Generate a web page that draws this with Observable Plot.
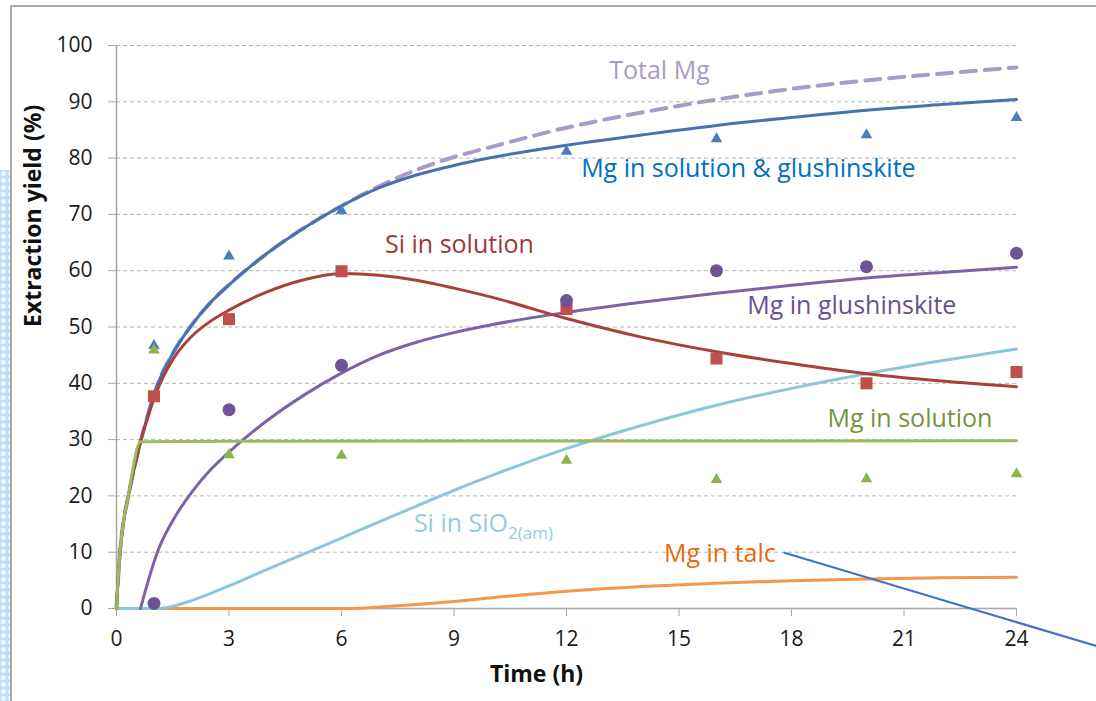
<!DOCTYPE html>
<html><head><meta charset="utf-8">
<script src="https://cdn.jsdelivr.net/npm/d3@7"></script>
<script src="https://cdn.jsdelivr.net/npm/@observablehq/plot@0.6"></script>
<style>
html,body{margin:0;padding:0;background:#fff;}
#wrap{position:relative;width:1096px;height:701px;overflow:hidden;background:#fff;}
#strip{position:absolute;left:0;top:170px;width:10px;height:531px;background-color:#bfdfef;background-image:radial-gradient(circle, #e8f3fa 2.2px, transparent 2.9px);background-size:7px 7px;}
#frame{position:absolute;left:10px;top:5px;width:1200px;height:800px;border-left:2px solid #a9a9a9;border-top:2px solid #a9a9a9;}
#chart{position:absolute;left:0;top:0;}
svg text{font-variant-ligatures:none;}
</style></head>
<body>
<div id="wrap"><div id="strip"></div><div id="frame"></div><div id="chart"></div></div>
<script>
// measured points (time in h, extraction yield in %)
const hours = [1, 3, 6, 12, 16, 20, 24];
const mgSolGlushMeas = [46.7, 62.6, 70.6, 81.2, 83.4, 84.1, 87.2];
const mgSolMeas = [45.9, 27.3, 27.2, 26.3, 22.9, 23.0, 23.9];
const siSolMeas = [37.7, 51.4, 59.9, 53.2, 44.4, 40.0, 42.0];
const mgGlushMeas = [0.9, 35.3, 43.2, 54.7, 60.0, 60.7, 63.1];

// model curves [time, value]
const totalMgCurve = [[0,0],[0.04,5],[0.1,10.5],[0.2,16],[0.3,19.5],[0.64,29.6],[0.85,34.7],[1.09,39.7],[1.5,45.3],[2,50.3],[2.5,54.3],[3,57.5],[4,63],[5,67.6],[6,71.5],[7,75],[8,77.9],[9,80.2],[10,82],[12,85.4],[14,88.1],[16,90.4],[18,92.3],[20,93.8],[22,95],[24,96.1]];
const mgSolGlushCurve = [[0,0],[0.04,5],[0.1,10.5],[0.2,16],[0.3,19.5],[0.64,29.6],[0.85,34.7],[1.09,39.7],[1.5,45.3],[2,50.3],[2.5,54.3],[3,57.5],[4,63],[5,67.6],[6,71.5],[7,74.7],[8,77],[9,78.7],[10,80.1],[12,82.3],[14,84.1],[16,85.8],[18,87.2],[20,88.5],[22,89.5],[24,90.4]];
const siSolCurve = [[0,0],[0.04,5],[0.1,10.5],[0.2,16],[0.3,19.5],[0.64,29.6],[0.82,33.6],[1,37.3],[1.25,41.2],[1.5,44.2],[2,48.3],[2.5,51],[3,53],[4,56.2],[5,58.4],[6,59.5],[7,59.2],[8,58.3],[9,56.9],[10,55.3],[12,51.5],[14,48.2],[16,45.6],[18,43.5],[20,41.7],[22,40.4],[24,39.4]];
const mgGlushCurve = [[0.64,0],[0.85,5],[1.09,10],[1.5,15.6],[2,20.6],[2.5,24.6],[3,27.8],[4,33.3],[5,37.9],[6,41.8],[7,45],[8,47.3],[9,49],[10,50.4],[12,52.6],[14,54.4],[16,56],[18,57.4],[20,58.7],[22,59.7],[24,60.6]];
const mgSolCurve = [[0,0],[0.04,5],[0.1,10.5],[0.2,16],[0.3,19.5],[0.64,29.6],[3,29.7],[24,29.8]];
const siSio2Curve = [[0,0],[1.1,0],[1.5,0.4],[2,1.4],[2.5,2.65],[3,4],[4,6.9],[5,9.7],[6,12.5],[7,15.4],[8,18.2],[9,21],[10,23.6],[12,28.4],[14,32.5],[16,36.1],[18,39.1],[20,41.7],[22,44],[24,46.1]];
const mgTalcCurve = [[0,0],[6.3,0],[7,0.25],[8,0.7],[9,1.25],[10,1.9],[12,3.05],[14,3.9],[16,4.5],[18,4.95],[20,5.25],[22,5.45],[24,5.55]];

// series labels
const labelText = ["Total Mg", "Mg in solution & glushinskite", "Si in solution", "Mg in glushinskite", "Mg in solution", "Si in SiO2(am)", "Mg in talc"];
const labelX = [13.14, 12.39, 7.16, 16.82, 18.96, 7.93, 14.6];
const labelY = [95.5, 78.1, 64.6, 53.8, 33.7, 15.0, 9.7];
const leaderT = [17.81, 26.2];
const leaderV = [9.9, -6.8];

const xTicks = [0, 3, 6, 9, 12, 15, 18, 21, 24];
const yTicks = [0, 10, 20, 30, 40, 50, 60, 70, 80, 90, 100];

const labelColors = ["#a99bc9", "#0070c0", "#9b3a35", "#69518c", "#77933c", "#92cddc", "#e46c0a"];
const labels = labelText.map((t, i) => ({t, x: labelX[i], y: labelY[i], c: labelColors[i]}));
const pts = (vals) => hours.map((h, i) => ({h, v: vals[i]}));
const leader = leaderT.map((t, i) => ({t, v: leaderV[i]}));

const lineOpts = (color) => ({x: d => d[0], y: d => d[1], stroke: color, strokeWidth: 3, curve: "monotone-x"});

const svg = Plot.plot({
  width: 1096, height: 701,
  marginLeft: 116, marginRight: 80, marginTop: 45, marginBottom: 93,
  style: {fontFamily: "'Open Sans', sans-serif", background: "transparent", color: "#1a1a1a"},
  x: {domain: [0, 24]},
  y: {domain: [0, 100]},
  marks: [
    Plot.gridY(yTicks, {stroke: "#b5b5b5", strokeOpacity: 1, strokeDasharray: "4,3"}),
    Plot.axisY(yTicks, {tickSize: 8, tickPadding: 16, fontSize: 21, stroke: "#a6a6a6", label: null}),
    Plot.axisX(xTicks, {tickSize: 8, tickPadding: 15, fontSize: 21, stroke: "#a6a6a6", label: null}),
    Plot.ruleX([0], {stroke: "#a6a6a6", strokeWidth: 1.5}),
    Plot.ruleY([0], {stroke: "#a6a6a6", strokeWidth: 1.5}),
    Plot.line(mgTalcCurve, lineOpts("#f79646")),
    Plot.line(siSio2Curve, lineOpts("#8dc5da")),
    Plot.line(mgGlushCurve, lineOpts("#7e62a9")),
    Plot.line(totalMgCurve, {...lineOpts("#a89bc7"), strokeWidth: 4, strokeDasharray: "15,9"}),
    Plot.line(mgSolGlushCurve, lineOpts("#4672b0")),
    Plot.line(siSolCurve, lineOpts("#a9413a")),
    Plot.line(mgSolCurve, lineOpts("#9bbb59")),
    Plot.dot(pts(mgSolGlushMeas), {x: "h", y: "v", symbol: "triangle", r: 4.3, fill: "#4a7ebb"}),
    Plot.dot(pts(mgSolMeas), {x: "h", y: "v", symbol: "triangle", r: 4.3, fill: "#8db44c"}),
    Plot.dot(pts(siSolMeas), {x: "h", y: "v", symbol: "square", r: 6.8, fill: "#c0504d"}),
    Plot.dot(pts(mgGlushMeas), {x: "h", y: "v", symbol: "circle", r: 6.5, fill: "#6e5494"}),
    Plot.line(leader, {x: "t", y: "v", stroke: "#4472c4", strokeWidth: 2.2}),
    Plot.text(labels, {x: "x", y: "y", text: "t", fill: "c", textAnchor: "start", fontSize: 25}),
    Plot.text(["Extraction yield (%)"], {frameAnchor: "left", dx: -83, rotate: -90, fontSize: 23, fontWeight: "bold", fill: "#111"}),
    Plot.text(["Time (h)"], {frameAnchor: "bottom", dx: -30, dy: 73, fontSize: 23, fontWeight: "bold", fill: "#111"})
  ]
});
d3.select(svg).selectAll("text").each(function() {
  if (this.textContent === "Si in SiO2(am)") {
    this.textContent = "Si in SiO";
    d3.select(this).append("tspan").attr("dy", 7).attr("font-size", 17).text("2(am)");
  }
});
document.getElementById("chart").appendChild(svg);
</script>
</body></html>
